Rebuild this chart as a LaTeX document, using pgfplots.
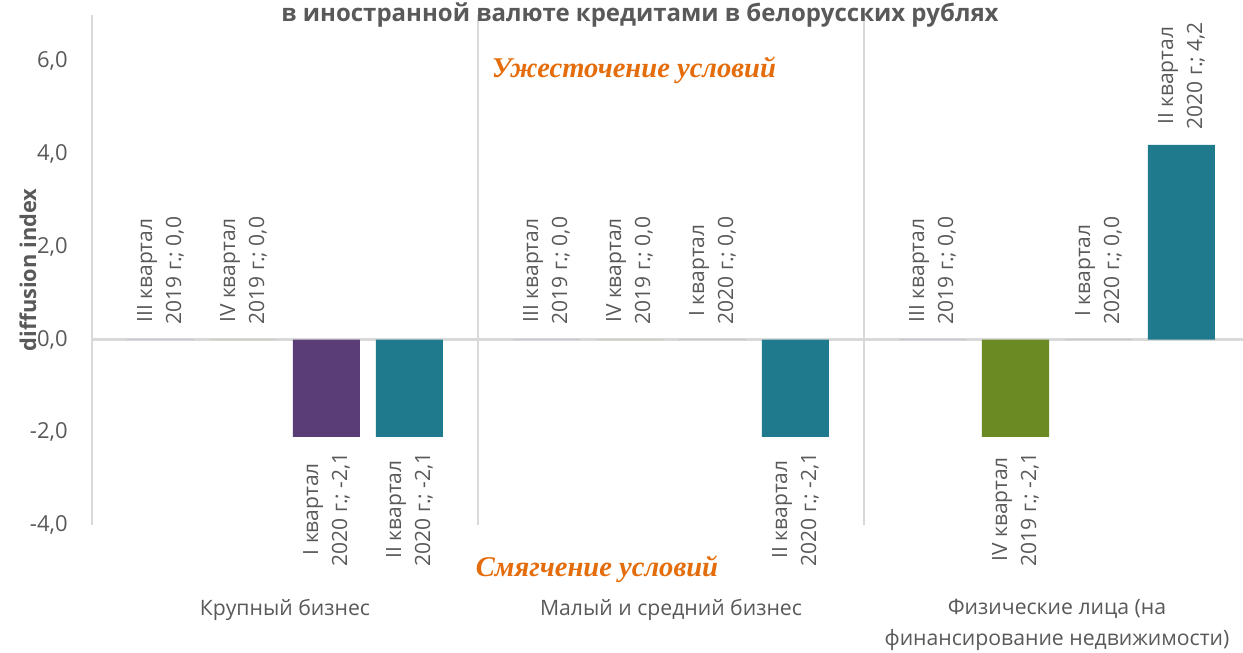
\documentclass[border=0pt]{standalone}
\usepackage{pgfplots}
\pgfplotsset{compat=1.18}
\usepackage{fontspec}
\setmainfont{Open Sans}
\newfontfamily\timesbi{Liberation Serif}
\definecolor{txt}{HTML}{595959}
\definecolor{gridc}{HTML}{D9D9D9}
\definecolor{cPurple}{HTML}{5A3C76}
\definecolor{cTeal}{HTML}{1E7A8C}
\definecolor{cGreen}{HTML}{6B8A24}
\definecolor{cBlue}{HTML}{2F5597}
\definecolor{orng}{HTML}{E46C0A}
\begin{document}
\begin{tikzpicture}
\begin{axis}[
  at={(0pt,0pt)}, anchor=south west,
  scale only axis, width=575.5pt, height=255pt,
  xmin=-0.5, xmax=2.4819, ymin=-4, ymax=7,
  axis y line*=left, axis x line*=bottom,
  y axis line style={gridc, line width=1pt},
  x axis line style={draw=none},
  major tick length=0pt, minor tick length=0pt,
  ytick={-4,-2,0,2,4,6},
  yticklabel style={font=\fontsize{11}{13}\selectfont, text=txt, inner sep=0pt, xshift=-12pt},
  /pgf/number format/.cd, fixed, fixed zerofill, precision=1, use comma, assume math mode=true, /pgfplots/.cd,
  xtick={0,1,2},
  xticklabels={Крупный бизнес, Малый и средний бизнес, Физические лица (на\\финансирование недвижимости)},
  xticklabel style={font=\fontsize{10.6}{15.5}\selectfont, text=txt, align=center, anchor=north, inner sep=0pt, yshift=-37pt},
  minor xtick={0.5,1.5},
  xminorgrids, minor x grid style={gridc, line width=1pt},
  extra y ticks={0}, extra y tick labels={},
  extra y tick style={grid=major, major grid style={gridc, line width=1.2pt}},
  ylabel={\bfseries diffusion index},
  ylabel style={at={(axis description cs:-0.0556,0.5)}, anchor=center, font=\fontsize{10.9}{13}\selectfont, text=txt},
  ybar, bar width=0.1736, bar shift=0pt,
  point meta=explicit symbolic,
  nodes near coords={\pgfplotspointmeta},
  visualization depends on={y \as \rawy},
  every node near coord/.append style={rotate=90, align=center, font=\fontsize{10.5}{14.5}\selectfont, text=txt, inner xsep=7.5pt, inner ysep=0pt, anchor=\ifdim\rawy pt<0pt east\else west\fi},
]
\addplot[fill=cBlue, draw=none] coordinates {
  (-0.3225,0) [III квартал\\2019 г.; 0,0]
  (0.6775,0) [III квартал\\2019 г.; 0,0]
  (1.6775,0) [III квартал\\2019 г.; 0,0]
};
\addplot[fill=cGreen, draw=none] coordinates {
  (-0.1075,0) [IV квартал\\2019 г.; 0,0]
  (0.8925,0) [IV квартал\\2019 г.; 0,0]
  (1.8925,-2.1) [IV квартал\\2019 г.; -2,1]
};
\addplot[fill=cPurple, draw=none] coordinates {
  (0.1075,-2.1) [I квартал\\2020 г.; -2,1]
  (1.1075,0) [I квартал\\2020 г.; 0,0]
  (2.1075,0) [I квартал\\2020 г.; 0,0]
};
\addplot[fill=cTeal, draw=none] coordinates {
  (0.3225,-2.1) [II квартал\\2020 г.; -2,1]
  (1.3225,-2.1) [II квартал\\2020 г.; -2,1]
  (2.3225,4.2) [II квартал\\2020 г.; 4,2]
};
\end{axis}
\node[anchor=base, font=\bfseries\fontsize{12}{14}\selectfont, text=txt] at (274pt,251.5pt) {в иностранной валюте кредитами в белорусских рублях};
\node[anchor=base, font=\timesbi\bfseries\itshape\fontsize{14.3}{17}\selectfont, text=orng] at (271pt,223.5pt) {Ужесточение условий};
\node[anchor=base, font=\timesbi\bfseries\itshape\fontsize{14.3}{17}\selectfont, text=orng] at (252.5pt,-26pt) {Смягчение условий};
\pgfresetboundingbox
\path[use as bounding box] (-46pt,-64pt) rectangle (575.5pt,262.5pt);
\end{tikzpicture}
\end{document}
